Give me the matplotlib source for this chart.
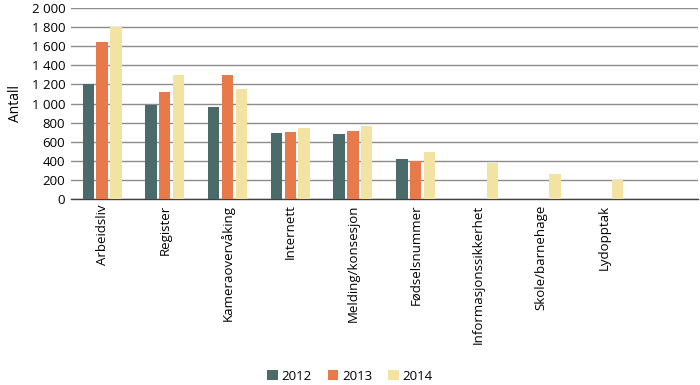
import matplotlib
matplotlib.use("Agg")
import matplotlib.pyplot as plt
import numpy as np

categories = ["Arbeidsliv", "Register", "Kameraovervåking", "Internett",
              "Melding/konsesjon", "Fødselsnummer", "Informasjonssikkerhet",
              "Skole/barnehage", "Lydopptak", ""]
years = ["2012", "2013", "2014"]
v2012 = [1200, 990, 965, 690, 680, 420, 0, 0, 0, 0]
v2013 = [1640, 1120, 1300, 700, 710, 400, 0, 0, 0, 0]
v2014 = [1800, 1300, 1150, 745, 765, 490, 380, 265, 200, 0]
yticks = [0, 200, 400, 600, 800, 1000, 1200, 1400, 1600, 1800, 2000]

colors = ["#4a6b69", "#e8794b", "#f3e3a2"]

plt.rcParams['font.family'] = ['Open Sans', 'DejaVu Sans']

fig = plt.figure(figsize=(7, 3.85), dpi=100)
ax = fig.add_axes([0.101, 0.483, 0.896, 0.496])

x = np.arange(len(categories))
w = 0.18
step = 0.22
for i, (vals, c, lab) in enumerate(zip([v2012, v2013, v2014], colors, years)):
    ax.bar(x + (i - 1) * step, vals, width=w, color=c, label=lab, zorder=3)

ax.set_xlim(-0.5, len(categories) - 0.5)
ax.set_ylim(0, 2000)
ax.set_yticks(yticks)
ax.set_yticklabels([f"{t:,}".replace(",", " ") for t in yticks], fontsize=9.5)
ax.set_xticks(x)
ax.set_xticklabels(categories, rotation=90, fontsize=9.5, va="top", ha="center")
ax.tick_params(axis="both", length=0, pad=4)
ax.grid(axis="y", color="#8c8c8c", linewidth=1, zorder=0)
for s in ["top", "right", "left"]:
    ax.spines[s].set_visible(False)
ax.spines["bottom"].set_color("#404040")
ax.spines["bottom"].set_linewidth(1)
ax.set_ylabel("Antall", fontsize=10, labelpad=6)

fig.legend(loc="center", bbox_to_anchor=(0.5, 0.023), ncol=3, frameon=False,
           fontsize=9.5, handlelength=0.8, handleheight=0.8, columnspacing=1.2,
           handletextpad=0.3)

fig.savefig("out.png", dpi=100)
